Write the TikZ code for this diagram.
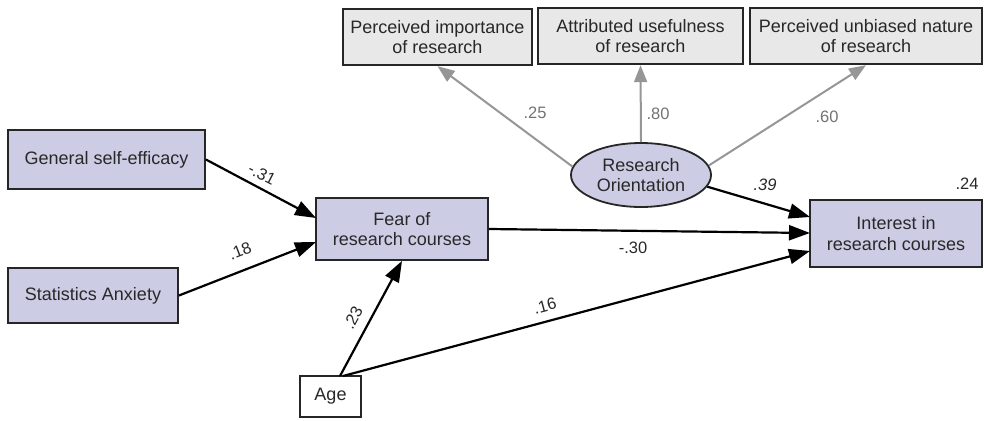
\documentclass[tikz,border=0pt]{standalone}
\usepackage{fontspec}
\setmainfont{Liberation Sans}
\usetikzlibrary{arrows.meta,shapes.geometric}
\definecolor{lav}{RGB}{205,204,229}
\definecolor{lgrey}{RGB}{232,232,232}
\definecolor{garrow}{RGB}{150,150,150}
\definecolor{txt}{RGB}{40,40,40}
\tikzset{
  var/.style={draw=black!85, line width=1.8pt, fill=lav, align=center, font=\fontsize{18}{20.5}\selectfont, text=txt, inner sep=0pt},
  ind/.style={draw=black!85, line width=2.4pt, fill=lgrey, align=center, font=\fontsize{18}{20.5}\selectfont, text=txt, inner sep=0pt},
  pth/.style={draw=black, line width=2.2pt, -{Triangle[length=21pt,width=15pt]}},
  load/.style={draw=garrow, line width=2pt, -{Triangle[length=17pt,width=13pt]}},
  coef/.style={font=\fontsize{16.5}{18}\selectfont, text=txt, inner sep=1pt},
  gcoef/.style={font=\fontsize{16.5}{18}\selectfont, text=black!55, inner sep=1pt}
}
\begin{document}
\begin{tikzpicture}[x=1pt,y=-1pt]
\useasboundingbox (0,0) rectangle (984,420);
% indicators
\node[ind, minimum width=189pt, minimum height=56pt] (pi) at (437.5,37) {Perceived importance\\of research};
\node[ind, minimum width=205pt, minimum height=56pt] (au) at (640.5,36) {Attributed usefulness\\of research};
\node[ind, minimum width=232pt, minimum height=56pt] (pu) at (866,36) {Perceived unbiased nature\\of research};
% latent
\node[ellipse, draw=black!85, line width=1.8pt, fill=lav, minimum width=140pt, minimum height=64pt, inner sep=0pt, align=center, font=\fontsize{18}{20.5}\selectfont, text=txt] (ro) at (641,175) {Research\\Orientation};
% observed
\node[var, minimum width=197pt, minimum height=59pt] (gse) at (106.5,159.5) {General self-efficacy};
\node[var, minimum width=170pt, minimum height=55pt] (sa) at (93,295.5) {Statistics Anxiety};
\node[var, minimum width=172pt, minimum height=62pt] (fear) at (402,229) {Fear of\\research courses};
\node[var, minimum width=172pt, minimum height=67pt] (int) at (896,233.5) {Interest in\\research courses};
\node[var, fill=white, minimum width=61pt, minimum height=41pt] (age) at (330.5,396.5) {Age};
% coordinates
\coordinate (f1) at (316,218);
\coordinate (f2) at (316,242);
\coordinate (i1) at (810,217);
\coordinate (i2) at (810,233);
\coordinate (i3) at (810,251);
\coordinate (a1) at (340,376);
\coordinate (a2) at (343,376);
% loadings
\draw[load] (ro.173) -- (pi.south);
\draw[load] (ro.north) -- (au.south);
\draw[load] (ro.8) -- (pu.south);
% paths
\draw[pth] (gse.east) -- (f1);
\draw[pth] (sa.east) -- (f2);
\draw[pth] (a1) -- (fear.south);
\draw[pth] (a2) -- (i3);
\draw[pth] (fear.east) -- (i2);
\draw[pth] (ro.-10) -- (i1);
% coefficients
\node[coef, rotate=-27] (c1) at (262,174) {-.31};
\node[coef, rotate=21] (c2) at (240,251) {.18};
\node[coef, rotate=62] (c3) at (353,318) {.23};
\node[coef, rotate=15] (c4) at (545,306) {.16};
\node[coef] (c5) at (633,248) {-.30};
\node[coef, font=\fontsize{16.5}{18}\selectfont\itshape] (c6) at (765,185) {.39};
\node[coef] (c7) at (967,184) {.24};
\node[gcoef] (c8) at (535,113) {.25};
\node[gcoef] (c9) at (658,114) {.80};
\node[gcoef] (c10) at (827,117) {.60};
\end{tikzpicture}
\end{document}
